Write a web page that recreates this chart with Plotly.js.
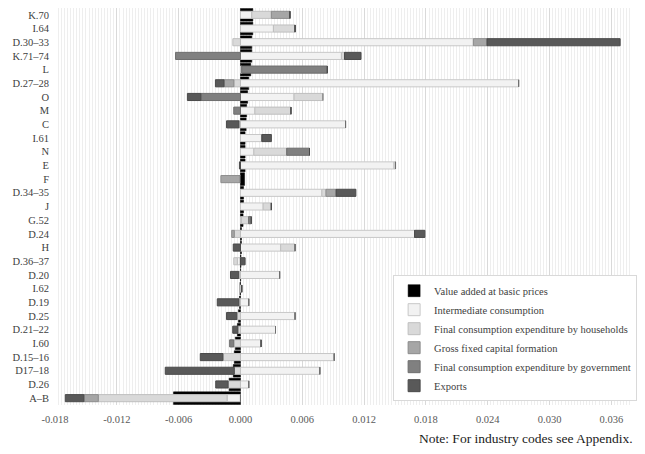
<!DOCTYPE html>
<html><head><meta charset="utf-8">
<script src="https://cdn.plot.ly/plotly-3.0.1.min.js"></script>
<style>body{margin:0;background:#fff}#chart{width:645px;height:454px}</style>
</head><body><div id="chart"></div>
<script>
const categories = ['K.70','I.64','D.30–33','K.71–74','L','D.27–28','O','M','C','I.61','N','E','F','D.34–35','J','G.52','D.24','H','D.36–37','D.20','I.62','D.19','D.25','D.21–22','I.60','D.15–16','D17–18','D.26','A–B'];
const valueAdded   = [0.0012,0.0012,0.0011,0.0011,0.0010,0.0008,0.0007,0.0006,0.00055,0.00045,0.00045,0.00045,0.0004,0.0003,0.0003,0.00025,0.0001,0.0001,0.00005,0.00002,-0.00005,-0.0001,-0.0002,-0.0003,-0.0005,-0.0006,-0.0007,-0.0011,-0.0065];
const intermediate = [0.0011,0.0032,0.0226,0.0098,0.00013,0.0270,0.0052,0.0014,0.0102,0.0021,0.0013,0.0149,0,0.0079,0.0022,0.0001,0.0169,0.0039,-0.0003,0.0038,0.00012,0.0008,0.0053,0.0034,0.0020,0.0091,0.0077,0.0008,-0.0013];
const households   = [0.0019,0.0021,-0.00074,0.0003,0,-0.00064,0.0028,0.0035,-0.00015,0,0.0032,0.00015,0,0.0004,0.0008,0.0007,-0.0006,0.0014,-0.00035,-0.00017,0,-0.00015,-0.00035,-0.00025,-0.00065,-0.0017,-0.0006,-0.0012,-0.0125];
const gfcf         = [0.0018,0,0.00135,0,0,-0.00096,0,0,0,0,0,0,-0.0019,0.001,0,0,-0.00025,0,0,0,0,0,0,0,0,0,0,0,-0.0014];
const government   = [0,0,0,-0.0063,0.0083,0,-0.00385,-0.00065,0,0,0.0022,0,0,0,0,0.00025,0,0,0,0,0,0,0,0,-0.0004,0,0,0,0];
const exportsVals  = [0,0,0.0129,0.0016,0,-0.00083,-0.0013,0,-0.0012,0.0009,0,-0.0001,0,0.0019,0,0,0.001,-0.0007,0.00045,-0.0008,0,-0.0021,-0.001,-0.0005,0,-0.0022,-0.0067,-0.0012,-0.0018];
const seriesNames = ['Value added at basic prices','Intermediate consumption','Final consumption expenditure by households','Gross fixed capital formation','Final consumption expenditure by government','Exports'];
const xTickVals = [-0.018,-0.012,-0.006,0,0.006,0.012,0.018,0.024,0.030,0.036];
const xTickText = ['-0.018','-0.012','-0.006','0.000','0.006','0.012','0.018','0.024','0.030','0.036'];

const fills = ['#000000','#f2f2f2','#d9d9d9','#a6a6a6','#808080','#595959'];
const lines = ['#000000','#c8c8c8','#bfbfbf','#8c8c8c','#6e6e6e','#4a4a4a'];
const values = [valueAdded, intermediate, households, gfcf, government, exportsVals];

const traces = values.map((v,i)=>({
  type:'bar', orientation:'h', y:categories, x:v, name:seriesNames[i],
  yaxis: i===0 ? 'y' : 'y2',
  width: i===0 ? 0.92 : 0.52,
  marker:{color:fills[i], line:{color:lines[i], width: i===0?0.5:1}},
  hoverinfo:'skip'
}));

const yBase = {type:'category', categoryorder:'array', categoryarray:categories, range:[28.5,-0.5], showgrid:false, zeroline:false, ticks:''};
const layout = {
  width:645, height:454,
  margin:{l:55, r:8.5, t:8, b:49},
  barmode:'relative',
  paper_bgcolor:'#ffffff', plot_bgcolor:'#ffffff',
  font:{family:'"Liberation Serif", "Times New Roman", serif', size:10.5, color:'#404040'},
  showlegend:true,
  xaxis:{range:[-0.018,0.038], tickvals:xTickVals, ticktext:xTickText, showgrid:true, gridcolor:'#d9d9d9', gridwidth:1,
    minor:{dtick:0.0003, tick0:0, showgrid:true, gridcolor:'#eeeeee', gridwidth:1},
    zeroline:true, zerolinecolor:'#cfcfcf', zerolinewidth:1, showline:false, ticks:'',
    tickfont:{size:10.5, color:'#595959'}, ticklabelstandoff:6},
  yaxis:Object.assign({}, yBase, {tickfont:{size:10.5, color:'#404040'}, ticklabelstandoff:5}),
  yaxis2:Object.assign({}, yBase, {overlaying:'y', showticklabels:false}),
  legend:{x:0.586, y:0.327, xanchor:'left', yanchor:'top', bgcolor:'#ffffff', bordercolor:'#d9d9d9', borderwidth:1,
    traceorder:'normal', font:{size:10.5, color:'#404040'}},
  annotations:[{xref:'paper', yref:'paper', x:1.006, y:-0.0856, xanchor:'right', yanchor:'middle', showarrow:false,
    text:'Note: For industry codes see Appendix.', font:{size:13.5, color:'#1a1a1a'}}]
};
Plotly.newPlot('chart', traces, layout, {displayModeBar:false, staticPlot:true});
</script></body></html>
